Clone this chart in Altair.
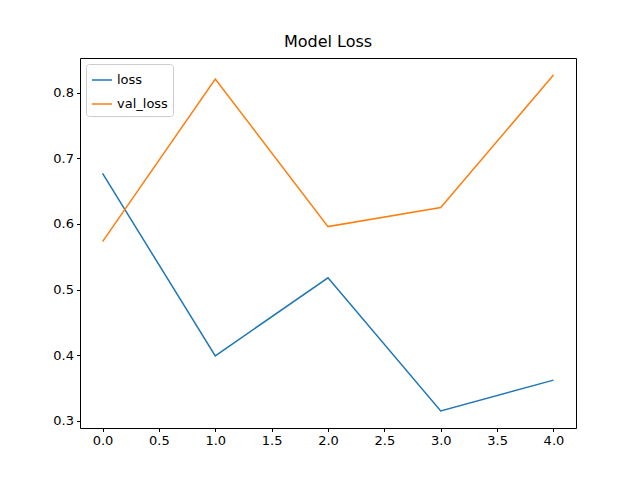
import altair as alt
import pandas as pd

epochs = [0, 1, 2, 3, 4]
loss = [0.677, 0.399, 0.518, 0.315, 0.362]
val_loss = [0.573, 0.821, 0.596, 0.625, 0.827]

df = pd.DataFrame(
    {"epoch": epochs * 2, "value": loss + val_loss, "series": ["loss"] * 5 + ["val_loss"] * 5}
)

FONT = "DejaVu Sans"

chart = (
    alt.Chart(df)
    .mark_line(strokeWidth=1.5)
    .encode(
        x=alt.X(
            "epoch:Q",
            scale=alt.Scale(domain=[-0.2, 4.2], nice=False, zero=False),
            axis=alt.Axis(title=None, values=[0, 0.5, 1, 1.5, 2, 2.5, 3, 3.5, 4], format=".1f", grid=False),
        ),
        y=alt.Y(
            "value:Q",
            scale=alt.Scale(domain=[0.289, 0.853], nice=False, zero=False),
            axis=alt.Axis(title=None, values=[0.3, 0.4, 0.5, 0.6, 0.7, 0.8], format=".1f", grid=False),
        ),
        color=alt.Color(
            "series:N",
            scale=alt.Scale(domain=["loss", "val_loss"], range=["#1f77b4", "#ff7f0e"]),
            legend=alt.Legend(
                title=None,
                orient="top-left",
                offset=6,
                symbolType="stroke",
                symbolStrokeWidth=1.5,
                symbolSize=400,
                fillColor="white",
                strokeColor="#cccccc",
                padding=5,
                rowPadding=6,
                cornerRadius=3,
                labelFontSize=13,
                labelFont=FONT,
            ),
        ),
    )
    .properties(
        width=496,
        height=370,
        title=alt.TitleParams("Model Loss", fontSize=16, font=FONT, fontWeight="normal", offset=8),
        autosize=alt.AutoSizeParams(type="none"),
        padding={"left": 72, "top": 50, "right": 56, "bottom": 44},
    )
    .configure_view(stroke="black", strokeWidth=1)
    .configure_axis(
        domain=False,
        tickColor="black",
        tickSize=3.5,
        labelColor="black",
        labelFontSize=13,
        labelFont=FONT,
        labelPadding=3,
    )
)

chart.save("out.html", embed_options={"renderer": "svg", "actions": False})
